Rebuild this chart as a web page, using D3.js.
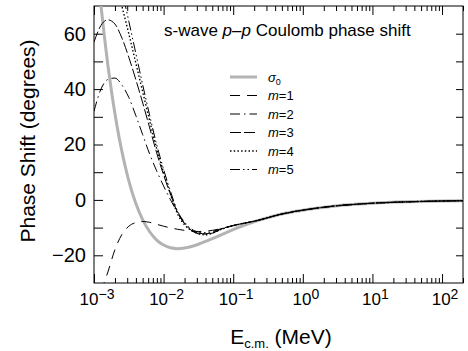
<!DOCTYPE html>
<html>
<head>
<meta charset="utf-8">
<script src="https://cdn.jsdelivr.net/npm/d3@7"></script>
<style>
  body { margin: 0; background: #fff; }
  svg text { font-family: "Liberation Sans", Arial, Helvetica, sans-serif; fill: #000; }
</style>
</head>
<body>
<svg id="chart" width="468" height="351"></svg>
<script>
// log10(E_c.m. / MeV) and phase shift in degrees
var sigmaLogE = [-2.95, -2.9, -2.85, -2.8, -2.75, -2.7, -2.65, -2.6, -2.55, -2.5, -2.4, -2.3, -2.2, -2.1,
  -2.0, -1.9, -1.8, -1.7, -1.6, -1.5, -1.4, -1.3, -1.2, -1.1, -1.0, -0.9, -0.8, -0.7, -0.6, -0.5,
  -0.4, -0.3, -0.2, -0.1, 0, 0.25, 0.5, 0.75, 1.0, 1.5, 2.0, 2.3];
var sigmaDeg = [82.8, 70.1, 58.8, 48.5, 39.4, 31.3, 24.0, 17.6, 11.9, 6.9, -1.2, -7.2, -11.5, -14.5,
  -16.3, -17.3, -17.6, -17.4, -16.8, -16.0, -15.0, -14.0, -12.9, -11.8, -10.7, -9.7, -8.8, -7.9, -7.1, -6.4,
  -5.7, -5.1, -4.6, -4.1, -3.7, -2.8, -2.1, -1.6, -1.2, -0.7, -0.4, -0.3];

// the m curves share one grid at low energy and then run on top of sigma_0
var mLogE = [-3.0, -2.9, -2.8, -2.7, -2.6, -2.5, -2.4, -2.3, -2.2, -2.1, -2.0, -1.9, -1.8, -1.7,
  -1.6, -1.5, -1.4, -1.3, -1.2, -1.1, -1.0, -0.9, -0.8, -0.7];
var m1Deg = [null, -33, -26, -18, -12.5, -9.5, -8.2, -7.8, -8.1, -8.8, -9.5, -10.1, -10.6, -11,
  -11.3, -11.4, -11.3, -11, -10.5, -9.9, -9.3, -8.7, -8.2, -7.7];
var m2Deg = [32, 40, 43.5, 44, 41.5, 37, 30.5, 23.5, 16.5, 10.5, 5, 0, -4.5, -8.5,
  -11, -12.2, -12.4, -12, -11, -10, -9.3, -8.7, -8.2, -7.7];
var m3Deg = [57, 63, 65, 63.5, 58.5, 51.5, 43.5, 35, 26, 17, 9, 2, -4.5, -8.5,
  -11, -12, -12.2, -11.8, -10.8, -9.9, -9.2, -8.7, -8.2, -7.7];
var m4Deg = [null, null, null, 80, 70, 60, 49.5, 39, 28.5, 18.5, 10, 2, -5, -9,
  -11, -12.2, -12.6, -12, -10.9, -10, -9.3, -8.7, -8.2, -7.7];
var m5Deg = [null, null, null, 88, 76, 64.5, 53, 41.5, 30.5, 20, 11, 3, -4, -8,
  -10.5, -11.6, -11.8, -11.4, -10.6, -9.9, -9.3, -8.7, -8.2, -7.7];

var legendLabels = ["σ", "m=1", "m=2", "m=3", "m=4", "m=5"];
var xDecades = [-3, -2, -1, 0, 1, 2];
var yTicks = [-20, -10, 0, 10, 20, 30, 40, 50, 60];
var yLabels = [-20, 0, 20, 40, 60];

var L = 94, R = 463, T = 6, B = 283;
var svg = d3.select("#chart");

var x = d3.scaleLog().domain([1e-3, 200]).range([L, R]);
var y = d3.scaleLinear().domain([-30, 70]).range([B, T]);

// minor ticks 2..9 in each decade
var minorVals = [];
xDecades.forEach(function (d) {
  for (var k = 2; k <= 9; k++) {
    var v = k * Math.pow(10, d);
    if (v <= 200) minorVals.push(v);
  }
});
var majorVals = xDecades.map(function (d) { return Math.pow(10, d); });

function cleanAxis(g) {
  g.select(".domain").remove();
  g.selectAll("line").attr("stroke", "#000").attr("stroke-width", 1);
}

svg.append("g").attr("transform", "translate(0," + B + ")")
  .call(d3.axisBottom(x).tickValues(minorVals).tickSize(-5).tickFormat("")).call(cleanAxis);
svg.append("g").attr("transform", "translate(0," + B + ")")
  .call(d3.axisBottom(x).tickValues(majorVals).tickSize(-9).tickFormat("")).call(cleanAxis);
svg.append("g").attr("transform", "translate(0," + T + ")")
  .call(d3.axisTop(x).tickValues(minorVals).tickSize(-5).tickFormat("")).call(cleanAxis);
svg.append("g").attr("transform", "translate(0," + T + ")")
  .call(d3.axisTop(x).tickValues(majorVals).tickSize(-9).tickFormat("")).call(cleanAxis);
svg.append("g").attr("transform", "translate(" + L + ",0)")
  .call(d3.axisLeft(y).tickValues(yTicks).tickSize(-9).tickFormat("")).call(cleanAxis);
svg.append("g").attr("transform", "translate(" + R + ",0)")
  .call(d3.axisRight(y).tickValues(yTicks).tickSize(-7).tickFormat("")).call(cleanAxis);

// y tick labels
var yl = svg.append("g").attr("transform", "translate(" + L + ",0)")
  .call(d3.axisLeft(y).tickValues(yLabels).tickSize(0).tickPadding(8));
yl.select(".domain").remove();
yl.selectAll("text").attr("font-size", 20).attr("font-family", "Liberation Sans, Arial, sans-serif");

// x tick labels 10^n
var xl = svg.append("g");
xDecades.forEach(function (d) {
  var t = xl.append("text")
    .attr("x", x(Math.pow(10, d)) + 3)
    .attr("y", 305)
    .attr("text-anchor", "middle")
    .attr("font-size", 17);
  t.append("tspan").text("10");
  t.append("tspan").attr("dy", -6).attr("font-size", 14).text(String(d).replace("-", "\u2212"));
});

// frame
svg.append("rect").attr("x", L).attr("y", T).attr("width", R - L).attr("height", B - T)
  .attr("fill", "none").attr("stroke", "#000").attr("stroke-width", 1);

// curves
svg.append("clipPath").attr("id", "plotclip").append("rect")
  .attr("x", L).attr("y", T).attr("width", R - L).attr("height", B - T);
var plot = svg.append("g").attr("clip-path", "url(#plotclip)");

var line = d3.line()
  .defined(function (d) { return d[1] != null; })
  .x(function (d) { return x(Math.pow(10, d[0])); })
  .y(function (d) { return y(d[1]); })
  .curve(d3.curveMonotoneX);

var sigmaPts = sigmaLogE.map(function (e, i) { return [e, sigmaDeg[i]]; });
var tail = sigmaPts.filter(function (p) { return p[0] > -0.65; });

plot.append("path").datum(sigmaPts).attr("d", line)
  .attr("fill", "none").attr("stroke", "#b3b3b3").attr("stroke-width", 3);

var dashes = ["10,7", "10,4,1.5,4", "11,3", "1.5,2.2", "10,3,1.5,3,1.5,3"];
var mSeries = [m1Deg, m2Deg, m3Deg, m4Deg, m5Deg];
mSeries.forEach(function (vals, i) {
  var pts = mLogE.map(function (e, j) { return [e, vals[j]]; }).concat(tail);
  plot.append("path").datum(pts).attr("d", line)
    .attr("fill", "none").attr("stroke", "#000")
    .attr("stroke-width", i === 3 ? 1.4 : 1)
    .attr("stroke-dasharray", dashes[i]);
});

// title
var title = svg.append("text").attr("x", 164).attr("y", 36).attr("font-size", 17);
title.append("tspan").text("s-wave ");
title.append("tspan").attr("font-style", "italic").text("p");
title.append("tspan").text("\u2013");
title.append("tspan").attr("font-style", "italic").text("p");
title.append("tspan").text(" Coulomb phase shift");

// legend
var legendY = [77, 95.5, 114, 132.5, 151, 169.5];
var lg = svg.append("g");
legendLabels.forEach(function (lab, i) {
  lg.append("line").attr("x1", 230).attr("x2", 257).attr("y1", legendY[i]).attr("y2", legendY[i])
    .attr("stroke", i === 0 ? "#b3b3b3" : "#000")
    .attr("stroke-width", i === 0 ? 3 : (i === 4 ? 1.4 : 1))
    .attr("stroke-dasharray", i === 0 ? null : dashes[i - 1]);
  var t = lg.append("text").attr("x", 268).attr("y", legendY[i]).attr("dy", "0.35em").attr("font-size", 13);
  if (i === 0) {
    t.append("tspan").attr("font-style", "italic").text("σ");
    t.append("tspan").attr("font-size", 9).attr("dy", 3).text("0");
  } else {
    t.append("tspan").attr("font-style", "italic").text("m");
    t.append("tspan").text(lab.slice(1));
  }
});

// axis titles
var xt = svg.append("text").attr("x", 281).attr("y", 344).attr("text-anchor", "middle").attr("font-size", 21);
xt.append("tspan").text("E");
xt.append("tspan").attr("font-size", 13).attr("dy", 4).text("c.m.");
xt.append("tspan").attr("dy", -4).text(" (MeV)");

svg.append("text").attr("transform", "translate(35,141) rotate(-90)")
  .attr("text-anchor", "middle").attr("font-size", 21).text("Phase Shift (degrees)");
</script>
</body>
</html>
